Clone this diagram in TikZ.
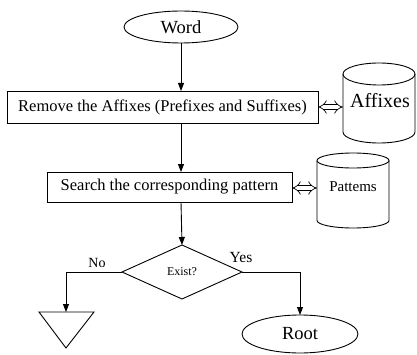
\documentclass[tikz,border=0pt]{standalone}
\usepackage{fontspec}
\setmainfont{Liberation Serif}
\usetikzlibrary{arrows.meta,shapes.geometric}
\begin{document}
\begin{tikzpicture}[x=1pt,y=1pt,
  line width=0.9pt,
  every node/.style={inner sep=0pt, outer sep=0pt},
  term/.style={draw, ellipse, minimum width=114pt, minimum height=32pt},
  procbox/.style={draw, rectangle},
  decision/.style={draw, diamond, minimum width=120pt, minimum height=54pt},
  flow/.style={-{Triangle[length=8pt,width=6pt]}},
  dbarrow/.style={double, double distance=4pt, line width=0.7pt,
    {Implies[length=5pt]}-{Implies[length=5pt]}},
  lbl/.style={font=\fontsize{15}{17}\selectfont}
]
\useasboundingbox (0,0) rectangle (417,354);

% start / end terminals
\node[term, minimum height=32pt] (word) at (181,327) {\fontsize{18.5}{20}\selectfont Word};
\node[term, minimum width=116pt, minimum height=38pt] (root) at (300,20) {\fontsize{18.5}{20}\selectfont Root};

% processing steps
\node[procbox, minimum width=311pt, minimum height=32pt] (remove) at (162.5,247)
  {\fontsize{16.5}{18}\selectfont Remove the Affixes (Prefixes and Suffixes)};
\node[procbox, minimum width=245pt, minimum height=30pt] (search) at (169.5,167)
  {\fontsize{16.5}{18}\selectfont Search the corresponding pattern};

% decision
\node[decision] (exist) at (182,82) {\fontsize{12}{14}\selectfont Exist?};

% stores (cylinders drawn directly)
\draw[fill=white] (343,280) -- (343,222) arc (180:360:36 and 11) -- (415,280);
\draw (379,280) ellipse (36 and 11);
\node (affixes) at (380,253) {\fontsize{20}{22}\selectfont Affixes};
\coordinate (affixesW) at (343,247);

\draw[fill=white] (317,193.5) -- (317,133.5) arc (180:360:36 and 7.5) -- (389,193.5);
\draw (353,193.5) ellipse (36 and 7.5);
\node (patterns) at (353,167) {\fontsize{15}{17}\selectfont Pattems};
\coordinate (patternsW) at (317,166);

% off-page connector triangle
\coordinate (tri) at (66,42);
\draw (39,42) -- (94,42) -- (66,6) -- cycle;

% main flow
\draw[flow] (word) -- (word |- remove.north);
\draw[flow] (remove.south -| word) -- (word |- search.north);
\draw[flow] (search.south -| word) -- (exist.north);

% exchanges with the stores
\draw[dbarrow] (remove.east) -- (affixesW);
\draw[dbarrow] (search.east |- patternsW) -- (patternsW);

% branches
\draw[flow] (exist.west) -| (tri);
\draw[flow] (exist.east) -| (root.north);
\node[lbl, font=\fontsize{14}{16}\selectfont] (no) at (97,91) {No};
\node[lbl, font=\fontsize{15.5}{17}\selectfont] (yes) at (241,97) {Yes};
\end{tikzpicture}
\end{document}
